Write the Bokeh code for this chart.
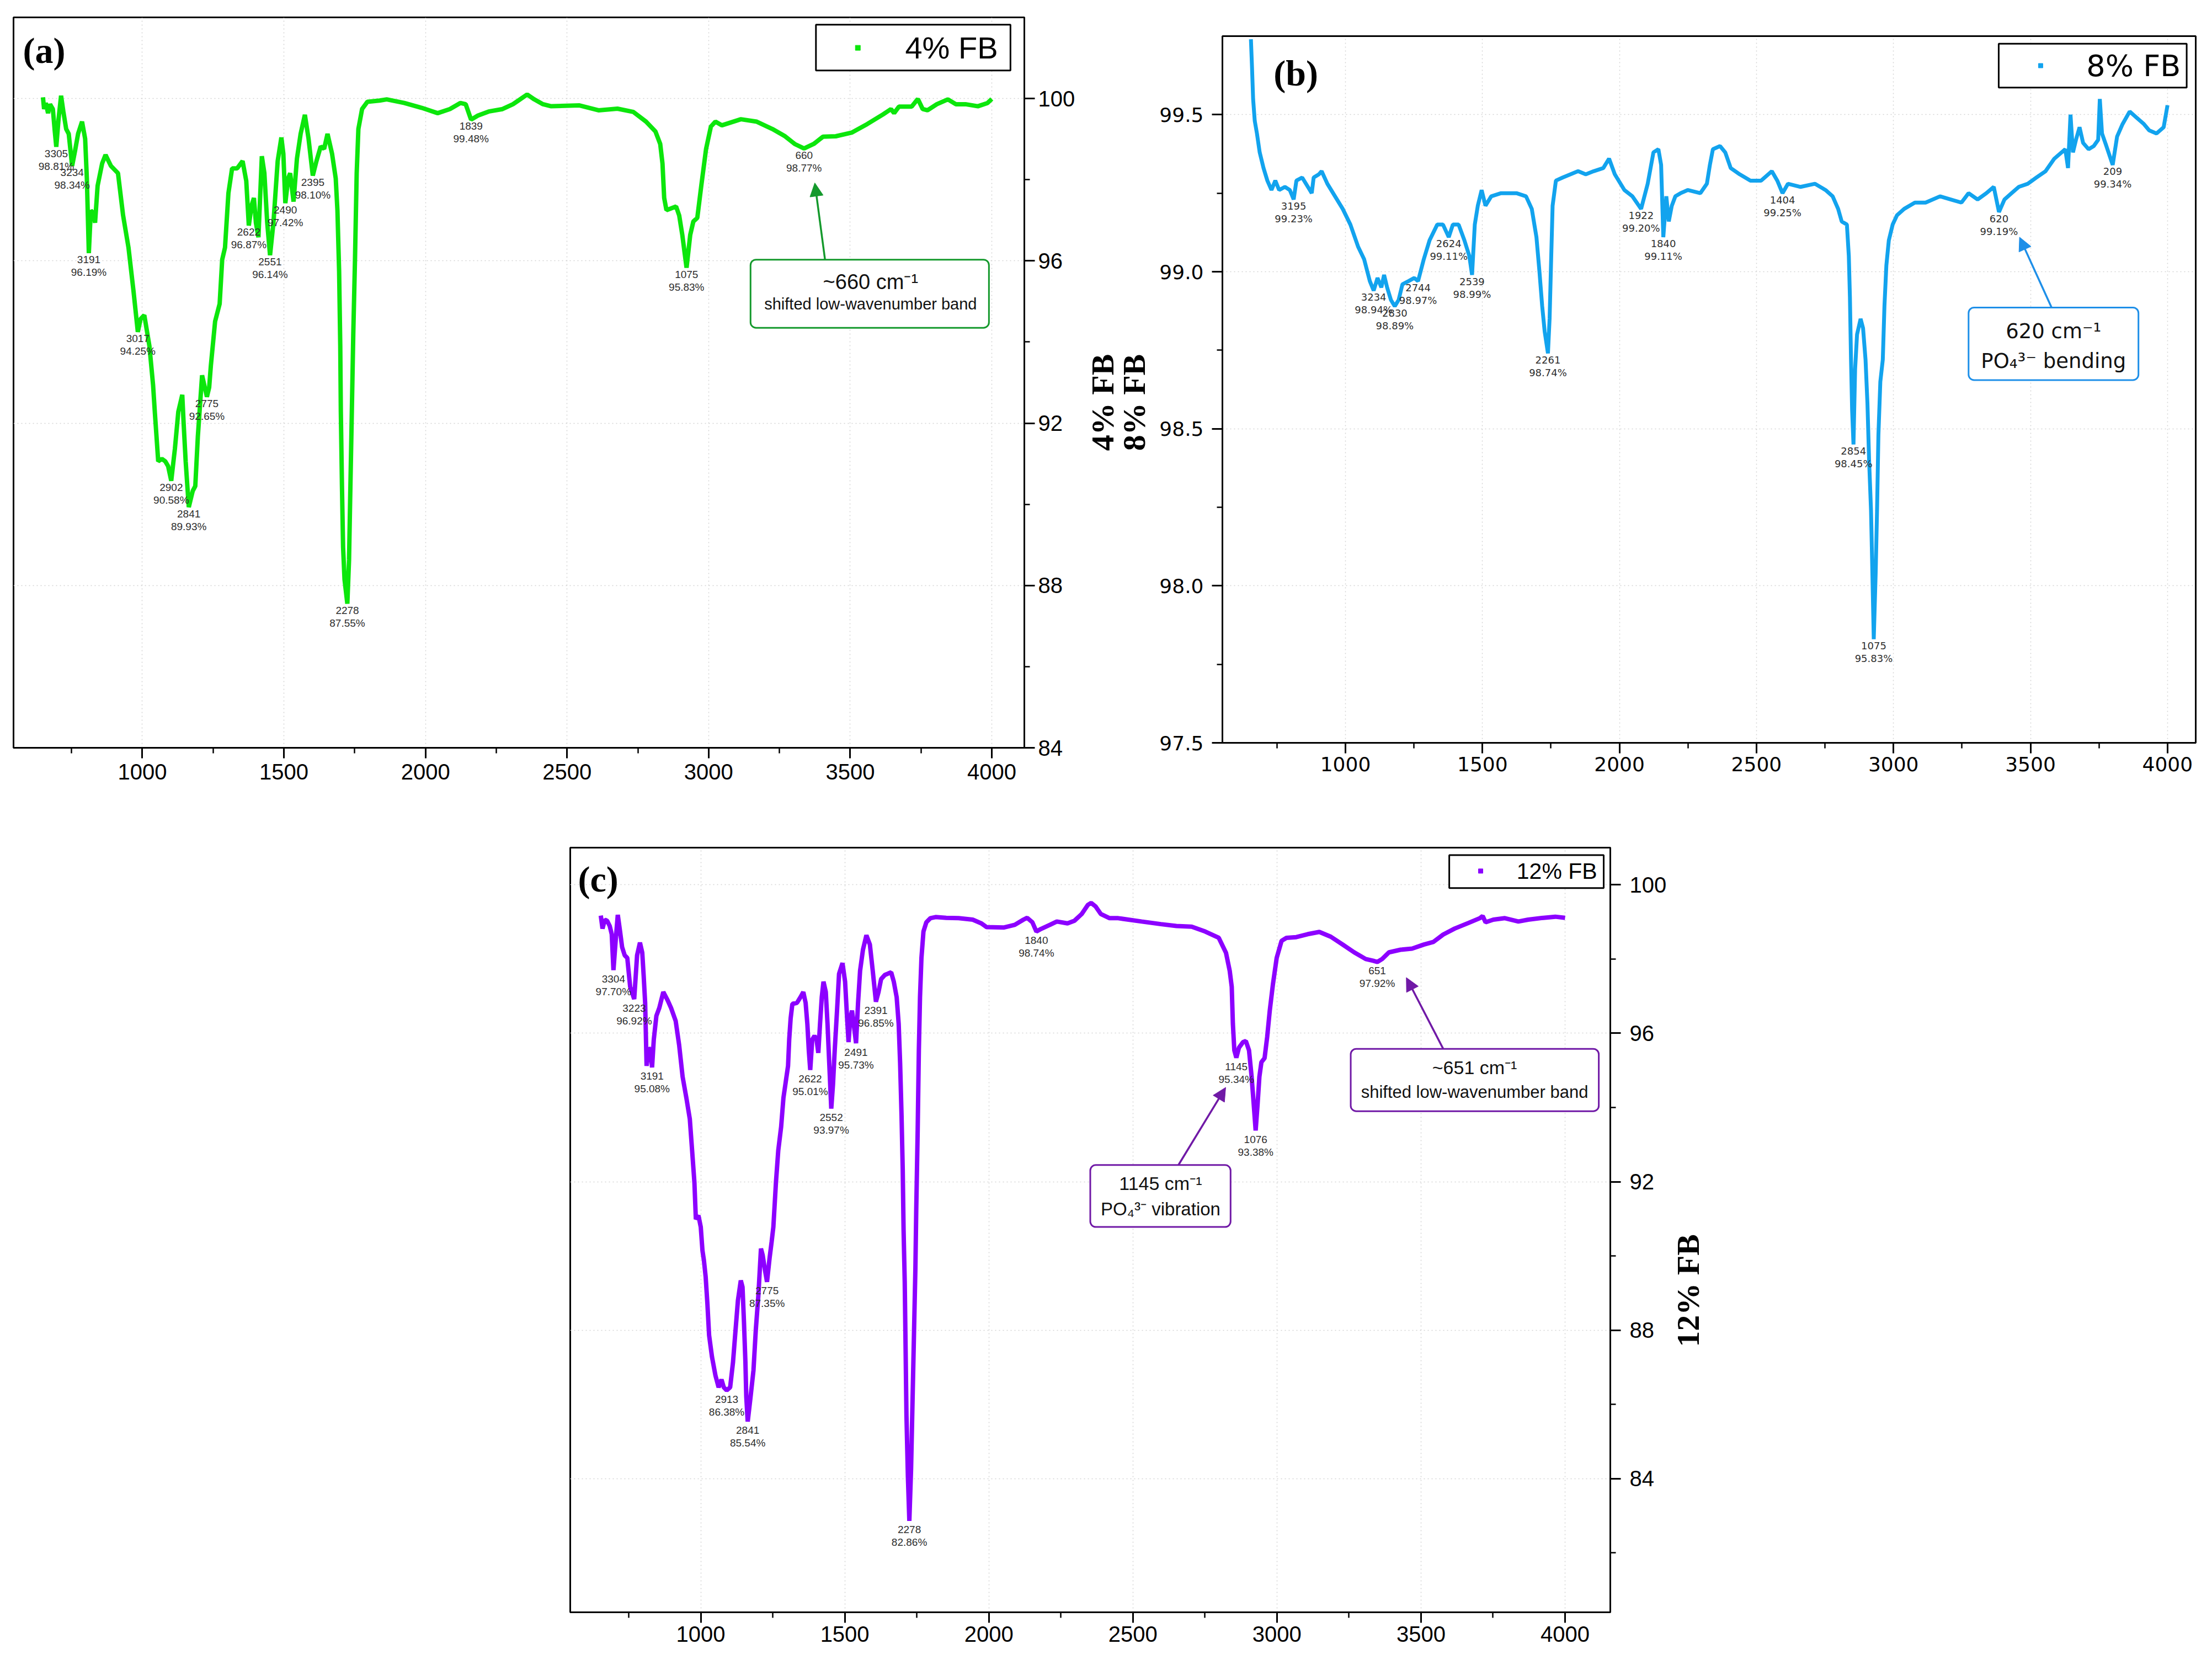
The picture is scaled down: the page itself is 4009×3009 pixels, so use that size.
import math
from bokeh.plotting import figure
from bokeh.layouts import column, row
from bokeh.models import (Range1d, FixedTicker, PrintfTickFormatter, BoxAnnotation,
                          Arrow, NormalHead, LinearAxis, Plot)
from bokeh.core.properties import value
from bokeh.embed import file_html
from bokeh.resources import INLINE

# ---------------- shared axis ticks ----------------
x_ticks = [1000, 1500, 2000, 2500, 3000, 3500, 4000]
x_minor = [750, 1250, 1750, 2250, 2750, 3250, 3750]

# ---------------- (a) 4% FB ----------------
a_wn = [649, 653, 659, 667, 674, 684, 690, 704, 713, 721,
        731, 740, 762, 773, 787, 798, 804, 818, 827, 833,
        842, 858, 870, 889, 914, 932, 951, 969, 994, 1007,
        1025, 1038, 1044, 1050, 1056, 1069, 1081, 1091, 1115, 1127,
        1141, 1146, 1153, 1178, 1187, 1196, 1205, 1211, 1236, 1242,
        1257, 1273, 1282, 1292, 1304, 1317, 1335, 1354, 1367, 1386,
        1394, 1401, 1410, 1422, 1431, 1441, 1463, 1478, 1491, 1498,
        1515, 1522, 1534, 1546, 1559, 1574, 1587, 1615, 1630, 1642,
        1654, 1670, 1683, 1689, 1695, 1699, 1701, 1705, 1709, 1714,
        1730, 1734, 1739, 1745, 1751, 1757, 1763, 1776, 1795, 1838,
        1863, 1925, 1987, 2043, 2086, 2123, 2142, 2185, 2223, 2272,
        2309, 2334, 2359, 2384, 2415, 2444, 2544, 2611, 2678, 2734,
        2779, 2812, 2829, 2837, 2843, 2851, 2885, 2896, 2907, 2935,
        2946, 2960, 2974, 2991, 3008, 3024, 3047, 3114, 3170, 3225,
        3270, 3304, 3371, 3404, 3449, 3505, 3560, 3616, 3644, 3655,
        3672, 3717, 3739, 3756, 3773, 3806, 3845, 3873, 3907, 3951,
        3985, 4000]
a_t = [100.03, 99.74, 99.89, 99.64, 99.86, 99.74, 99.25, 99.49, 100.07, 99.68,
       99.25, 99.13, 98.70, 99.13, 99.43, 99.01, 98.03, 97.24, 97.18, 96.94,
       97.85, 98.40, 98.61, 98.34, 98.16, 97.12, 96.33, 95.24, 94.57, 94.66,
       93.90, 92.93, 92.28, 91.67, 91.06, 91.12, 91.06, 90.94, 91.37, 92.28,
       92.70, 91.97, 91.06, 90.33, 90.45, 91.67, 92.58, 93.18, 92.88, 93.42,
       94.51, 94.94, 96.03, 96.33, 97.67, 98.28, 98.28, 98.46, 97.97, 97.37,
       97.55, 96.94, 96.58, 98.58, 98.16, 96.94, 96.94, 98.46, 99.04, 98.64,
       98.03, 98.16, 97.46, 98.52, 99.13, 99.60, 99.01, 98.46, 98.82, 98.76,
       99.13, 98.64, 98.03, 97.24, 95.73, 93.90, 92.28, 90.45, 88.94, 88.15,
       88.63, 90.15, 91.97, 94.21, 96.03, 98.16, 99.25, 99.74, 99.92, 99.95,
       99.98, 99.89, 99.77, 99.64, 99.74, 99.89, 99.86, 99.58, 99.68, 99.74,
       99.86, 99.98, 100.10, 99.98, 99.86, 99.81, 99.83, 99.71, 99.75, 99.67,
       99.43, 99.19, 98.88, 98.40, 97.55, 97.25, 97.34, 97.12, 96.64, 96.64,
       96.97, 97.06, 97.85, 98.76, 99.31, 99.43, 99.34, 99.49, 99.43, 99.25,
       99.07, 98.88, 98.88, 99.06, 99.07, 99.16, 99.37, 99.61, 99.74, 99.64,
       99.80, 99.80, 99.99, 99.74, 99.71, 99.86, 99.98, 99.86, 99.86, 99.81,
       99.89, 99.99]
a_pk_wn = [696, 752, 811, 984, 1102, 1164, 1228, 1376, 1451, 1505, 1602, 1724, 2161, 2922, 3337]
a_pk_t = [98.81, 98.34, 96.19, 94.25, 90.58, 89.93, 92.65, 96.87, 96.14, 97.42, 98.10, 87.55, 99.48, 95.83, 98.77]
a_pk_name = ["3305", "3234", "3191", "3017", "2902", "2841", "2775", "2622", "2551", "2490",
             "2395", "2278", "1839", "1075", "660"]
a_pk_pct = ["98.81%", "98.34%", "96.19%", "94.25%", "90.58%", "89.93%", "92.65%", "96.87%",
            "96.14%", "97.42%", "98.10%", "87.55%", "99.48%", "95.83%", "98.77%"]

# ---------------- (b) 8% FB ----------------
b_wn = [655, 659, 663, 669, 677, 687, 701, 715, 730, 744,
        758, 779, 797, 821, 842, 863, 877, 884, 903, 913,
        934, 962, 990, 1018, 1046, 1068, 1089, 1117, 1131, 1141,
        1152, 1166, 1194, 1208, 1230, 1251, 1286, 1307, 1335, 1356,
        1392, 1413, 1434, 1452, 1472, 1483, 1497, 1511, 1532, 1568,
        1624, 1659, 1680, 1697, 1708, 1718, 1727, 1745, 1751, 1756,
        1768, 1793, 1849, 1877, 1906, 1941, 1962, 1983, 2018, 2047,
        2103, 2124, 2142, 2152, 2171, 2180, 2191, 2204, 2223, 2249,
        2295, 2319, 2330, 2341, 2367, 2386, 2406, 2439, 2478, 2517,
        2556, 2576, 2615, 2661, 2713, 2752, 2778, 2798, 2811, 2830,
        2837, 2841, 2845, 2849, 2860, 2867, 2880, 2889, 2898, 2905,
        2911, 2918, 2923, 2935, 2940, 2945, 2952, 2961, 2967, 2974,
        2983, 2997, 3013, 3039, 3078, 3117, 3170, 3209, 3248, 3274,
        3307, 3339, 3366, 3405, 3431, 3457, 3490, 3522, 3555, 3587,
        3627, 3637, 3646, 3655, 3666, 3679, 3692, 3712, 3731, 3747,
        3753, 3761, 3777, 3816, 3836, 3862, 3888, 3914, 3933, 3960,
        3986, 4000]
b_t = [99.74, 99.65, 99.55, 99.48, 99.44, 99.38, 99.33, 99.29, 99.26, 99.29,
       99.26, 99.27, 99.26, 99.29, 99.30, 99.27, 99.25, 99.30, 99.31, 99.32,
       99.28, 99.24, 99.20, 99.15, 99.08, 99.04, 98.97, 98.98, 98.95, 98.99,
       98.95, 98.91, 98.91, 98.96, 98.97, 98.98, 99.04, 99.10, 99.15, 99.15,
       99.15, 99.15, 99.10, 99.05, 99.15, 99.21, 99.26, 99.21, 99.24, 99.25,
       99.25, 99.24, 99.20, 99.11, 99.00, 98.89, 98.81, 98.85, 99.05, 99.21,
       99.29, 99.30, 99.32, 99.31, 99.32, 99.33, 99.36, 99.31, 99.26, 99.24,
       99.28, 99.38, 99.39, 99.34, 99.24, 99.16, 99.21, 99.24, 99.25, 99.26,
       99.25, 99.28, 99.34, 99.39, 99.40, 99.38, 99.33, 99.31, 99.29, 99.29,
       99.32, 99.29, 99.28, 99.27, 99.28, 99.26, 99.24, 99.20, 99.16, 99.15,
       99.05, 98.92, 98.72, 98.56, 98.69, 98.80, 98.85, 98.82, 98.72, 98.58,
       98.40, 98.24, 98.04, 98.04, 98.24, 98.48, 98.65, 98.72, 98.89, 99.02,
       99.10, 99.15, 99.18, 99.20, 99.22, 99.22, 99.24, 99.23, 99.22, 99.25,
       99.23, 99.25, 99.27, 99.23, 99.25, 99.27, 99.28, 99.30, 99.32, 99.36,
       99.39, 99.33, 99.50, 99.38, 99.42, 99.46, 99.41, 99.39, 99.40, 99.42,
       99.55, 99.44, 99.40, 99.43, 99.47, 99.51, 99.49, 99.47, 99.45, 99.44,
       99.46, 99.53]
b_pk_wn = [811, 1103, 1180, 1265, 1377, 1462, 1739, 2079, 2160, 2595, 2854, 2928, 3385, 3800]
b_pk_t = [99.23, 98.94, 98.89, 98.97, 99.11, 98.99, 98.74, 99.20, 99.11, 99.25, 98.45, 97.83, 99.19, 99.34]
b_pk_name = ["3195", "3234", "2830", "2744", "2624", "2539", "2261", "1922", "1840", "1404",
             "2854", "1075", "620", "209"]
b_pk_pct = ["99.23%", "98.94%", "98.89%", "98.97%", "99.11%", "98.99%", "98.74%", "99.20%",
            "99.11%", "99.25%", "98.45%", "95.83%", "99.19%", "99.34%"]

# ---------------- (c) 12% FB ----------------
c_wn = [653, 659, 667, 675, 684, 691, 705, 712, 720, 727,
        736, 745, 755, 779, 789, 797, 802, 807, 812, 819,
        825, 837, 846, 856, 870, 885, 897, 913, 925, 937,
        950, 962, 970, 978, 983, 992, 1000, 1006, 1011, 1017,
        1023, 1029, 1039, 1051, 1062, 1072, 1080, 1102, 1112, 1120,
        1129, 1139, 1145, 1150, 1155, 1158, 1173, 1183, 1191, 1200,
        1209, 1215, 1222, 1239, 1246, 1252, 1261, 1269, 1279, 1287,
        1295, 1303, 1307, 1312, 1318, 1334, 1346, 1356, 1364, 1370,
        1375, 1387, 1395, 1402, 1408, 1414, 1420, 1426, 1434, 1440,
        1446, 1459, 1465, 1473, 1480, 1492, 1501, 1508, 1513, 1519,
        1525, 1531, 1546, 1553, 1563, 1575, 1587, 1597, 1617, 1626,
        1639, 1651, 1661, 1670, 1680, 1687, 1692, 1697, 1701, 1704,
        1708, 1711, 1714, 1719, 1730, 1735, 1740, 1745, 1748, 1753,
        1757, 1761, 1766, 1773, 1783, 1797, 1815, 1852, 1895, 1944,
        1974, 1992, 2053, 2090, 2120, 2133, 2151, 2181, 2212, 2236,
        2273, 2297, 2322, 2344, 2355, 2370, 2389, 2419, 2449, 2530,
        2597, 2651, 2704, 2751, 2798, 2823, 2836, 2843, 2847, 2852,
        2868, 2882, 2892, 2903, 2912, 2919, 2933, 2939, 2946, 2957,
        2966, 2975, 2986, 2999, 3016, 3033, 3067, 3107, 3147, 3187,
        3228, 3268, 3308, 3335, 3365, 3389, 3429, 3469, 3510, 3543,
        3577, 3617, 3664, 3704, 3714, 3724, 3751, 3791, 3838, 3872,
        3925, 3966, 4000]
c_t = [99.17, 98.82, 99.06, 99.03, 98.89, 98.67, 98.53, 99.19, 98.74, 98.32,
       98.10, 98.03, 97.25, 98.10, 98.44, 98.17, 97.53, 96.82, 95.12, 95.61,
       95.54, 95.83, 96.47, 96.68, 97.11, 96.89, 96.68, 96.33, 95.68, 94.83,
       94.26, 93.69, 92.84, 91.98, 90.99, 91.09, 90.78, 90.14, 89.88, 89.44,
       88.72, 87.86, 87.28, 86.78, 86.46, 86.67, 86.46, 86.46, 87.14, 87.93,
       88.80, 89.34, 89.16, 88.22, 87.14, 86.21, 86.21, 86.92, 88.00, 88.94,
       90.20, 90.02, 89.66, 89.95, 90.38, 90.78, 91.98, 92.84, 93.48, 94.26,
       94.69, 95.12, 95.83, 96.40, 96.79, 96.82, 96.97, 97.11, 96.82, 96.25,
       95.54, 95.83, 95.93, 95.83, 95.47, 96.25, 96.97, 97.39, 97.11, 96.25,
       95.19, 94.62, 95.54, 96.61, 97.60, 97.89, 97.39, 96.40, 95.76, 96.40,
       96.61, 96.25, 96.82, 97.68, 98.25, 98.64, 98.39, 97.68, 97.11, 97.46,
       97.57, 97.61, 97.64, 97.39, 96.97, 96.25, 95.19, 93.76, 92.34, 90.70,
       89.30, 87.50, 85.70, 84.05, 84.26, 86.06, 87.86, 89.66, 91.27, 93.41,
       95.54, 96.97, 98.03, 98.74, 98.99, 99.10, 99.13, 99.11, 99.10, 99.06,
       98.96, 98.86, 98.85, 98.92, 99.06, 99.11, 98.99, 98.81, 98.92, 99.01,
       98.96, 99.03, 99.21, 99.46, 99.51, 99.42, 99.21, 99.10, 99.10, 99.01,
       98.94, 98.89, 98.87, 98.74, 98.57, 98.17, 97.68, 97.25, 96.25, 95.54,
       95.61, 95.76, 95.79, 95.54, 94.83, 94.12, 94.12, 94.83, 95.22, 95.33,
       95.90, 96.61, 97.32, 98.03, 98.49, 98.57, 98.59, 98.67, 98.73, 98.60,
       98.39, 98.18, 98.00, 97.95, 98.00, 98.18, 98.25, 98.28, 98.39, 98.46,
       98.66, 98.82, 98.97, 99.10, 99.16, 98.99, 99.06, 99.10, 99.01, 99.06,
       99.11, 99.14, 99.11]
c_pk_wn = [697, 769, 831, 1090, 1163, 1230, 1380, 1453, 1539, 1608, 1724, 2165, 2859, 2926, 3348]
c_pk_t = [97.70, 96.92, 95.08, 86.38, 85.54, 89.30, 95.01, 93.97, 95.73, 96.85, 82.86, 98.74, 95.34, 93.38, 97.92]
c_pk_name = ["3304", "3223", "3191", "2913", "2841", "2775", "2622", "2552", "2491", "2391",
             "2278", "1840", "1145", "1076", "651"]
c_pk_pct = ["97.70%", "96.92%", "95.08%", "86.38%", "85.54%", "87.35%", "95.01%", "93.97%",
            "95.73%", "96.85%", "82.86%", "98.74%", "95.34%", "93.38%", "97.92%"]

SUB4, SUP3, SUPM, SUP1 = "\u2084", "\u00b3", "\u207b", "\u00b9"
CM = "cm" + SUPM + SUP1
PO4 = "PO" + SUB4 + SUP3 + SUPM

HAS_RADIUS = "border_radius" in BoxAnnotation.properties()
HAS_FRAME_ALIGN = "frame_align" in Plot.properties()
PANEL_PPU = {}
TITLE_FONT_SIZE = "58px"


def merged(wn, t, pk_wn, pk_t):
    pts = sorted(zip(list(wn) + list(pk_wn), list(t) + list(pk_t)))
    return [p[0] for p in pts], [p[1] for p in pts]


def free_frame(p):
    # each panel keeps its own plot-area edges inside the row layouts
    if HAS_FRAME_ALIGN:
        p.frame_align = False


def make_fig(w, h, xr, yr, side, borders):
    l, r, t, b = borders
    p = figure(width=w, height=h, x_range=Range1d(*xr), y_range=Range1d(*yr),
               y_axis_location=side, output_backend="svg", toolbar_location=None,
               title=None, min_border_left=l, min_border_right=r,
               min_border_top=t, min_border_bottom=b)
    free_frame(p)
    p.background_fill_color = "white"
    p.border_fill_color = "white"
    p.outline_line_color = "black"
    p.outline_line_width = 3
    p.outline_line_alpha = 1
    for g in (p.xgrid, p.ygrid):
        g.grid_line_color = "#d2d2d2"
        g.grid_line_dash = "2 5"
        g.grid_line_width = 1.5
    return p


def bare_title_axis(ax, text, standoff):
    # an axis that carries only its vertical title (no line, ticks or tick labels)
    ax.ticker = FixedTicker(ticks=[])
    ax.axis_line_color = None
    ax.major_tick_out = 0
    ax.major_tick_in = 0
    ax.minor_tick_out = 0
    ax.minor_tick_in = 0
    ax.major_label_standoff = 0
    ax.axis_label = text
    ax.axis_label_standoff = standoff
    ax.axis_label_text_font = "Liberation Serif"
    ax.axis_label_text_font_style = "bold"
    ax.axis_label_text_font_size = TITLE_FONT_SIZE
    ax.axis_label_text_color = "black"


def title_strip(w, h, left, top, bottom, titles):
    # narrow canvas whose left border carries the vertical series titles
    s = figure(width=w, height=h, x_range=Range1d(0, 1), y_range=Range1d(0, 1),
               x_axis_location=None, y_axis_location="left", output_backend="svg",
               toolbar_location=None, title=None, min_border_left=left, min_border_right=0,
               min_border_top=top, min_border_bottom=bottom)
    free_frame(s)
    s.outline_line_color = None
    s.background_fill_color = "white"
    s.border_fill_color = "white"
    s.grid.visible = False
    first_text, first_standoff = titles[0]
    bare_title_axis(s.yaxis[0], first_text, first_standoff)
    for (txt, so) in titles[1:]:
        extra = LinearAxis()
        bare_title_axis(extra, txt, so)
        s.add_layout(extra, "left")
    return s


def style_axes(p, font, size, y_ticks, y_minor, fmt, x_standoff, y_standoff):
    for ax in list(p.xaxis) + list(p.yaxis):
        ax.axis_line_width = 3
        ax.axis_line_color = "black"
        ax.major_tick_line_width = 3
        ax.minor_tick_line_width = 2.5
        ax.major_tick_out = 19
        ax.major_tick_in = 0
        ax.minor_tick_out = 10
        ax.minor_tick_in = 0
        ax.major_label_text_font = font
        ax.major_label_text_font_size = size
        ax.major_label_text_color = "black"
    p.xaxis.ticker = FixedTicker(ticks=x_ticks, minor_ticks=x_minor)
    p.xaxis.major_label_standoff = x_standoff
    p.yaxis.ticker = FixedTicker(ticks=y_ticks, minor_ticks=y_minor)
    p.yaxis.formatter = PrintfTickFormatter(format=fmt)
    p.yaxis.major_label_standoff = y_standoff


def peak_labels(p, xs, ys, names, pcts, off1, off2, font, size):
    ppu = PANEL_PPU[id(p)]
    common = dict(text_align="center", text_baseline="middle", text_font=value(font),
                  text_font_size=value(size), text_color="#2e2e2e")
    p.text(x=xs, y=[y - off1 / ppu for y in ys], text=names, **common)
    p.text(x=xs, y=[y - off2 / ppu for y in ys], text=pcts, **common)


def callout(p, box, color, lines, font, arrow):
    left, right, bottom, top = box
    kw = dict(left=left, right=right, bottom=bottom, top=top, fill_color="white",
              fill_alpha=1.0, line_color=color, line_width=3, line_alpha=1.0, level="underlay")
    if HAS_RADIUS:
        kw["border_radius"] = 10
    p.add_layout(BoxAnnotation(**kw))
    for (tx, ty, txt, sz) in lines:
        p.text(x=[tx], y=[ty], text=[txt], text_align="center", text_baseline="middle",
               text_font=value(font), text_font_size=value(sz), text_color="#111111")
    x0, y0, x1, y1 = arrow
    p.add_layout(Arrow(end=NormalHead(size=24, fill_color=color, line_color=color, line_width=1),
                       x_start=x0, y_start=y0, x_end=x1, y_end=y1,
                       line_color=color, line_width=3.5))


def legend_box(p, box, marker_xy, text_xy, label, color, font, size, msize):
    left, right, bottom, top = box
    p.add_layout(BoxAnnotation(left=left, right=right, bottom=bottom, top=top,
                               fill_color="white", fill_alpha=1.0, line_color="black",
                               line_width=3, line_alpha=1.0, level="underlay"))
    p.scatter(x=[marker_xy[0]], y=[marker_xy[1]], marker="square", size=msize,
              color=color, line_color=color)
    p.text(x=[text_xy[0]], y=[text_xy[1]], text=[label], text_align="left",
           text_baseline="middle", text_font=value(font), text_font_size=value(size),
           text_color="black")


def panel_tag(p, x, y, tag):
    p.text(x=[x], y=[y], text=[tag], text_align="left", text_baseline="middle",
           text_font=value("Liberation Serif"), text_font_style=value("bold"),
           text_font_size=value("66px"), text_color="black")


# ---------------- build (a) ----------------
GREEN, GREEN_DARK = "#0ce60c", "#14992c"
pa = make_fig(1951, 1460, (545, 4115), (84, 102), "right", (24, 92, 31, 105))
PANEL_PPU[id(pa)] = 1324 / 18.0
style_axes(pa, "Liberation Sans", "40px", [84, 88, 92, 96, 100], [86, 90, 94, 98], "%d", 10, 6)
ax, ay = merged(a_wn, a_t, a_pk_wn, a_pk_t)
pa.line(ax, ay, line_color=GREEN, line_width=8)
peak_labels(pa, a_pk_wn, a_pk_t, a_pk_name, a_pk_pct, 12, 35, "Liberation Sans", "19px")
callout(pa, (3148, 3990, 94.35, 96.03), GREEN_DARK,
        [(3572, 95.48, "~660 " + CM, "38px"), (3572, 94.94, "shifted low-wavenumber band", "29px")],
        "Liberation Sans", (3411, 96.03, 3375, 97.92))
legend_box(pa, (3379, 4066, 100.69, 101.82), (3527, 101.25), (3694, 101.25), "4% FB",
           GREEN, "Liberation Sans", "56px", 9)
panel_tag(pa, 578, 101.18, "(a)")

# ---------------- vertical titles between (a) and (b) ----------------
pm = title_strip(147, 1460, 146, 60, 62, [("8% FB", 10), ("4% FB", -11)])

# ---------------- build (b) ----------------
BLUE, BLUE_DARK = "#12a3ee", "#1e8fe8"
pb = make_fig(1911, 1460, (551, 4103), (97.5, 99.75), "left", (116, 30, 65, 114))
PANEL_PPU[id(pb)] = 1281 / 2.25
style_axes(pb, "DejaVu Sans", "36px", [97.5, 98.0, 98.5, 99.0, 99.5],
           [97.75, 98.25, 98.75, 99.25], "%.1f", 6, 15)
bx, by = merged(b_wn, b_t, b_pk_wn, b_pk_t)
pb.line(bx, by, line_color=BLUE, line_width=7)
peak_labels(pb, b_pk_wn, b_pk_t, b_pk_name, b_pk_pct, 12, 35, "DejaVu Sans", "18px")
callout(pb, (3274, 3894, 98.655, 98.886), BLUE_DARK,
        [(3584, 98.81, "620 " + CM, "37px"), (3584, 98.715, PO4 + " bending", "37px")],
        "DejaVu Sans", (3577, 98.886, 3460, 99.11))
legend_box(pb, (3384, 4070, 99.586, 99.726), (3537, 99.656), (3704, 99.656), "8% FB",
           BLUE, "DejaVu Sans", "54px", 8)
panel_tag(pb, 738, 99.633, "(b)")

# ---------------- build (c) ----------------
VIOLET, VIOLET_DARK = "#8c00ff", "#7019a6"
pc = make_fig(3023, 1549, (547, 4157), (80.4, 101.0), "right", (1033, 102, 76, 87))
PANEL_PPU[id(pc)] = 1386 / 20.6
style_axes(pc, "Liberation Sans", "40px", [84, 88, 92, 96, 100], [82, 86, 90, 94, 98], "%d", 6, 16)
cx, cy = merged(c_wn, c_t, c_pk_wn, c_pk_t)
pc.line(cx, cy, line_color=VIOLET, line_width=8)
peak_labels(pc, c_pk_wn, c_pk_t, c_pk_name, c_pk_pct, 16, 39, "Liberation Sans", "19px")
callout(pc, (2352, 2839, 90.78, 92.45), VIOLET_DARK,
        [(2596, 91.96, "1145 " + CM, "34px"), (2596, 91.27, PO4 + " vibration", "33px")],
        "Liberation Sans", (2658, 92.45, 2822, 94.54))
callout(pc, (3256, 4117, 93.90, 95.58), VIOLET_DARK,
        [(3686, 95.08, "~651 " + CM, "34px"), (3686, 94.41, "shifted low-wavenumber band", "31px")],
        "Liberation Sans", (3577, 95.58, 3449, 97.50))
legend_box(pc, (3598, 4134, 99.91, 100.80), (3707, 100.37), (3832, 100.37), "12% FB",
           VIOLET, "Liberation Sans", "41px", 8)
panel_tag(pc, 574, 100.16, "(c)")

if HAS_FRAME_ALIGN:
    pr = title_strip(986, 1549, 66, 300, 91, [("12% FB", 0)])
else:
    pr = title_strip(986, 1549, 66, 76, 87, [("12% FB", 0)])

layout = column(row(pa, pm, pb), row(pc, pr))
open("out.html", "w").write(file_html(layout, INLINE))
